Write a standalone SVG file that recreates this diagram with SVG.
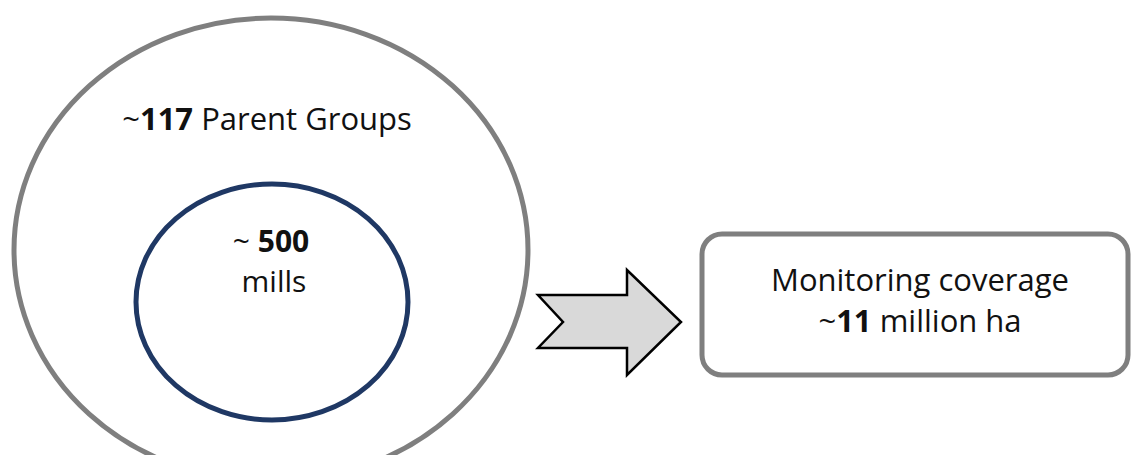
<svg xmlns="http://www.w3.org/2000/svg" width="1131" height="455" viewBox="0 0 1131 455">
<style>
.t{font-family:"Open Sans","Liberation Sans",sans-serif;font-size:31px;fill:#111;text-anchor:middle}
.s{font-size:30px}
.b{font-weight:bold}
</style>
<rect width="1131" height="455" fill="#fff"/>
<g id="parent-groups">
<ellipse cx="271" cy="250" rx="257" ry="232" fill="#fff" stroke="#7f7f7f" stroke-width="5"/>
<text class="t" x="267" y="130">~<tspan class="b">117</tspan> Parent Groups</text>
</g>
<g id="mills">
<ellipse cx="272" cy="302" rx="136" ry="118" fill="#fff" stroke="#1f3864" stroke-width="5"/>
<text class="t s" x="271" y="252">~ <tspan class="b">500</tspan></text>
<text class="t s" x="274" y="292">mills</text>
</g>
<g id="connectors">
<polygon points="538,295 627,295 627,270 681,322 627,375 627,348 538,348 563,322" fill="#d9d9d9" stroke="#000" stroke-width="2.5" stroke-linejoin="miter"/>
</g>
<g id="coverage">
<rect x="702" y="234" width="426" height="141" rx="20" ry="20" fill="#fff" stroke="#7f7f7f" stroke-width="5"/>
<text class="t" x="920" y="291">Monitoring coverage</text>
<text class="t" x="920" y="332">~<tspan class="b">11</tspan> million ha</text>
</g>
</svg>
